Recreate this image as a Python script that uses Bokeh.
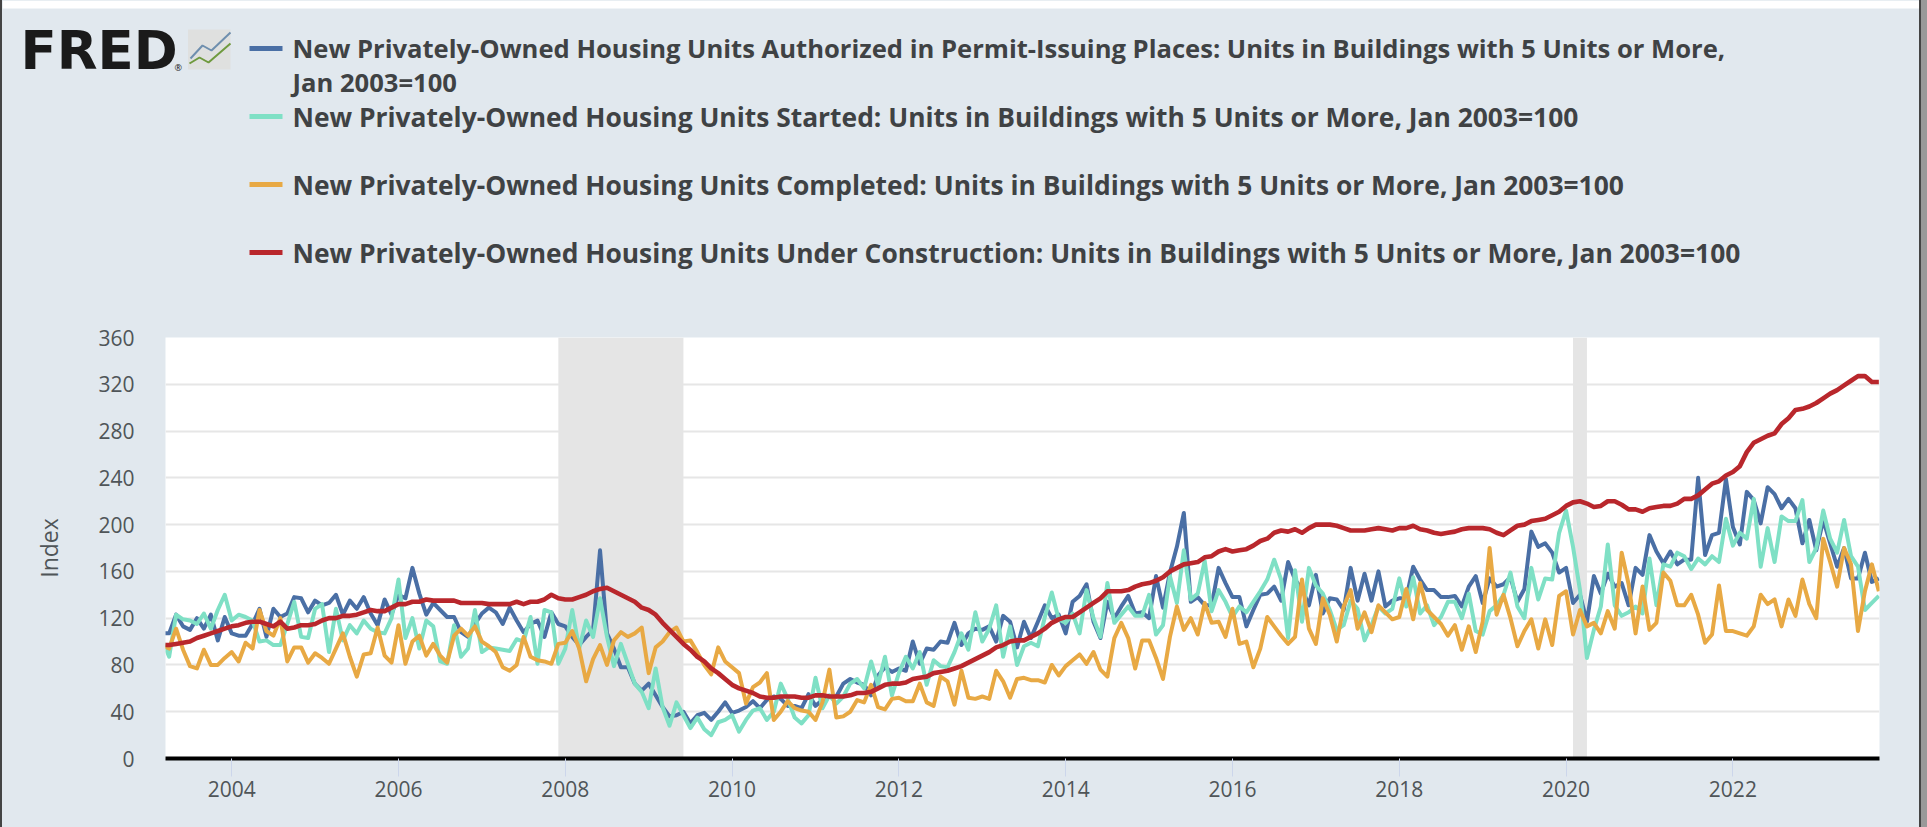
import pandas as pd
from bokeh.core.properties import value
from bokeh.embed import file_html
from bokeh.layouts import column, row
from bokeh.models import FixedTicker, Range1d, Spacer
from bokeh.plotting import figure
from bokeh.resources import INLINE

series_names = [
    "New Privately-Owned Housing Units Authorized in Permit-Issuing Places: Units in Buildings with 5 Units or More,",
    "New Privately-Owned Housing Units Started: Units in Buildings with 5 Units or More, Jan 2003=100",
    "New Privately-Owned Housing Units Completed: Units in Buildings with 5 Units or More, Jan 2003=100",
    "New Privately-Owned Housing Units Under Construction: Units in Buildings with 5 Units or More, Jan 2003=100",
]
y_ticks = [0, 40, 80, 120, 160, 200, 240, 280, 320, 360]
x_ticks = [2004, 2006, 2008, 2010, 2012, 2014, 2016, 2018, 2020, 2022]
rec_start = [2007 + 11 / 12, 2020 + 1 / 12]
rec_end = [2009 + 5 / 12, 2020 + 3 / 12]

permits = [
    107,107,123,113,110,120,111,123,101,121,107,105,105,115,128,104,128,121,124,138,137,125,135,131,133,140,123,135,128,138,124,
    114,136,123,140,137,163,141,123,133,127,121,121,108,104,115,124,129,125,115,129,118,108,115,118,104,125,115,113,104,97,104,
    110,178,107,94,78,78,64,58,64,54,44,36,37,40,30,37,39,33,40,48,39,41,44,49,43,50,53,51,45,45,43,
    55,45,50,53,53,64,68,65,63,54,71,78,74,77,75,100,81,94,93,100,99,116,97,107,111,110,113,100,122,117,95,
    117,103,117,131,120,123,107,134,139,149,117,103,134,120,130,139,124,125,120,156,129,159,181,210,134,138,131,131,163,150,138,
    138,113,127,140,141,147,135,168,153,145,131,157,124,137,136,127,163,135,158,135,160,130,135,137,137,164,153,144,144,138,138,
    139,130,147,156,133,154,147,149,155,134,145,194,181,184,176,159,163,133,140,117,156,141,158,147,150,131,163,157,191,177,167,
    177,166,170,170,240,174,191,193,239,198,183,228,221,201,232,226,214,222,214,184,204,178,204,184,164,180,154,154,176,151,154,
]
starts = [
    101,87,123,119,118,115,124,111,127,140,118,123,121,118,100,101,97,97,115,134,104,103,128,132,91,128,101,114,107,118,111,
    108,107,120,153,103,120,94,118,113,83,81,114,87,94,127,91,95,94,93,92,102,100,121,81,127,125,81,94,127,94,118,
    104,137,104,79,98,81,64,57,43,77,44,28,48,37,26,35,25,20,31,33,37,23,33,41,43,33,40,64,51,35,30,
    37,69,43,54,47,53,64,68,60,83,63,87,54,73,87,77,91,63,84,79,78,91,107,93,125,100,111,131,87,113,80,
    96,99,96,121,142,119,116,124,107,144,120,104,150,116,123,130,122,122,140,106,114,156,133,178,136,141,169,126,144,134,121,
    130,125,134,143,153,170,153,103,161,117,163,148,141,127,110,114,135,128,101,114,130,124,128,154,130,155,124,131,114,121,134,
    134,120,141,109,106,126,131,140,159,130,120,163,136,154,153,193,212,181,144,86,110,130,183,131,122,125,130,124,171,131,166,
    164,176,173,162,171,166,173,168,205,182,193,188,222,164,197,168,207,203,203,221,168,180,212,188,176,204,173,164,127,133,139,
]
completions = [
    97,94,111,93,79,77,93,80,80,86,91,83,99,94,127,109,105,120,83,95,95,82,90,86,81,94,107,87,70,89,90,
    112,88,82,114,81,100,105,88,98,88,82,105,111,105,113,100,96,91,78,75,80,104,87,84,83,81,98,99,109,94,66,
    85,97,80,101,108,104,107,112,73,95,100,108,112,100,101,91,80,72,95,83,78,73,47,61,65,73,33,40,49,43,41,
    40,33,48,76,35,36,40,50,48,63,44,42,51,52,49,49,64,48,45,70,66,46,75,52,51,53,51,75,66,52,68,
    69,67,67,65,80,71,79,84,89,81,91,76,70,103,116,103,77,101,101,86,68,104,130,110,120,106,133,116,117,104,128,
    98,100,78,94,121,113,105,98,104,153,111,98,137,123,100,130,144,111,125,108,131,125,119,121,145,119,150,127,121,115,105,
    114,93,113,91,117,180,123,140,120,96,109,119,94,119,97,139,143,106,127,113,116,107,126,111,176,149,107,147,110,116,159,
    152,131,131,140,123,99,106,148,109,109,107,105,113,140,132,136,113,136,122,153,132,120,188,168,147,180,166,109,143,166,143,
]
under_construction = [
    97,97,98,99,100,103,105,107,109,111,113,114,116,117,117,115,113,117,111,112,114,114,115,118,120,120,122,122,123,125,127,
    126,126,129,132,132,134,134,136,135,135,135,135,133,133,133,133,132,132,132,132,134,132,134,134,136,140,137,136,136,138,140,
    143,145,146,143,140,137,134,129,127,123,116,110,104,98,93,87,83,77,73,68,63,60,58,56,53,52,52,53,53,53,52,
    52,54,54,53,53,53,54,56,56,57,60,63,64,64,65,68,69,70,73,74,75,77,79,82,85,88,91,95,97,100,101,
    101,104,107,111,116,119,121,121,125,129,133,137,143,143,143,144,147,149,150,152,155,160,163,166,167,168,172,173,177,179,177,
    178,179,182,186,188,193,195,194,196,193,197,200,200,200,199,197,195,195,195,196,197,196,195,197,197,199,196,195,193,192,193,
    194,196,197,197,197,196,193,191,195,199,200,203,204,205,208,211,216,219,220,218,215,216,220,220,217,213,213,211,214,215,216,
    216,218,222,222,225,230,235,237,242,245,250,262,270,273,276,278,286,291,298,299,301,304,308,312,315,319,323,327,327,322,322,
]

months = pd.date_range("2003-03-01", periods=len(permits), freq="MS")
x = [d.year + (d.month - 1) / 12 for d in months]

BG = "#e1e8ee"
TEXT = "#4f5558"
X0, X1 = 2003.2063, 2023.758
colors = ["#4a6fa5", "#7fe0c5", "#e8a944", "#b9272c"]
widths = [4, 4, 4, 4.6]

# chart panel: page x 2..1919, page y 319..827
p = figure(width=1917, height=508, output_backend="svg", toolbar_location=None,
           x_range=Range1d(X0, X1), y_range=Range1d(0, 360),
           min_border_left=163, min_border_right=40, min_border_top=18, min_border_bottom=69,
           background_fill_color="white", border_fill_color=BG, outline_line_color=None)
p.xgrid.visible = False
p.ygrid.grid_line_color = "#e6e6e6"
p.ygrid.grid_line_width = 2
p.ygrid.ticker = FixedTicker(ticks=y_ticks)

xa = p.xaxis[0]
xa.ticker = FixedTicker(ticks=x_ticks)
xa.axis_line_color = "black"
xa.axis_line_width = 4
xa.major_tick_line_color = "#ccd6eb"
xa.major_tick_out = 18
xa.major_tick_in = 0
xa.minor_tick_line_color = None
xa.major_label_text_font = "Open Sans"
xa.major_label_text_font_size = "21px"
xa.major_label_text_color = TEXT
xa.major_label_standoff = 4

ya = p.yaxis[0]
ya.ticker = FixedTicker(ticks=y_ticks)
ya.axis_line_color = None
ya.major_tick_line_color = None
ya.minor_tick_line_color = None
ya.major_label_text_font = "Open Sans"
ya.major_label_text_font_size = "21px"
ya.major_label_text_color = TEXT
ya.major_label_standoff = 25
ya.axis_label = "Index"
ya.axis_label_text_font = "Open Sans"
ya.axis_label_text_font_style = "normal"
ya.axis_label_text_font_size = "23px"
ya.axis_label_text_color = TEXT
ya.axis_label_standoff = 30

p.quad(left=rec_start, right=rec_end, bottom=0, top=360, fill_color="#e5e5e5", line_color=None)
for v, c, w in zip([permits, starts, completions, under_construction], colors, widths):
    p.line(x, v, line_color=c, line_width=w, line_join="round")

# header panel: its plot area is the whole panel, with one data unit per page pixel
h = figure(width=1917, height=319, output_backend="svg", toolbar_location=None,
           x_range=Range1d(2, 1919), y_range=Range1d(319, 0),
           x_axis_type=None, y_axis_type=None,
           min_border=0, background_fill_color=BG, border_fill_color=BG, outline_line_color=None)
h.xgrid.visible = False
h.ygrid.visible = False
h.quad(left=[2], right=[1919], top=[0], bottom=[8], fill_color="white", line_color=None)

swatch_y = [48, 116, 184, 252]
text_y = [48, 116, 184, 252, 82]
text_sizes = ["25.6px", "26.4px", "26.4px", "26.4px", "25.6px"]
h.segment(x0=[249] * 4, x1=[282] * 4, y0=swatch_y, y1=swatch_y, line_color=colors, line_width=5)
for label, ty, size in zip(series_names + ["Jan 2003=100"], text_y, text_sizes):
    h.text(x=[292], y=[ty], text=[label],
           text_font=value("Open Sans"), text_font_style="bold", text_font_size=value(size),
           text_color="#3f4244", text_baseline="middle", text_align="left")

h.text(x=[20], y=[49.5], text=["FRED"], text_font=value("DejaVu Sans"), text_font_style="bold",
       text_font_size=value("53px"), text_color="#1a1a1a", text_baseline="alphabetic")
h.text(x=[174], y=[67], text=["®"], text_font=value("Open Sans"), text_font_size=value("9px"),
       text_color="#1a1a1a", text_baseline="alphabetic")
h.quad(left=[187.5], right=[230], top=[29], bottom=[69], fill_color="#dfe0df", line_color=None)
h.line([190, 202, 211, 230], [58, 45, 50, 32], line_color="#6f8fae", line_width=2)
h.line([189, 199, 208, 230], [63, 57, 62, 43], line_color="#6f9a3f", line_width=2)

# the inner row keeps the header's plot area from being lined up with the chart's
page = row(
    Spacer(width=2, height=827, styles={"background-color": "#444444"}),
    column(row(h, spacing=0), p, spacing=0, styles={"background-color": BG}),
    Spacer(width=2, height=827, styles={"background-color": "#444444"}),
    Spacer(width=6, height=827, styles={"background-color": "#999999"}),
    spacing=0,
)
open("out.html", "w").write(file_html(page, INLINE))
